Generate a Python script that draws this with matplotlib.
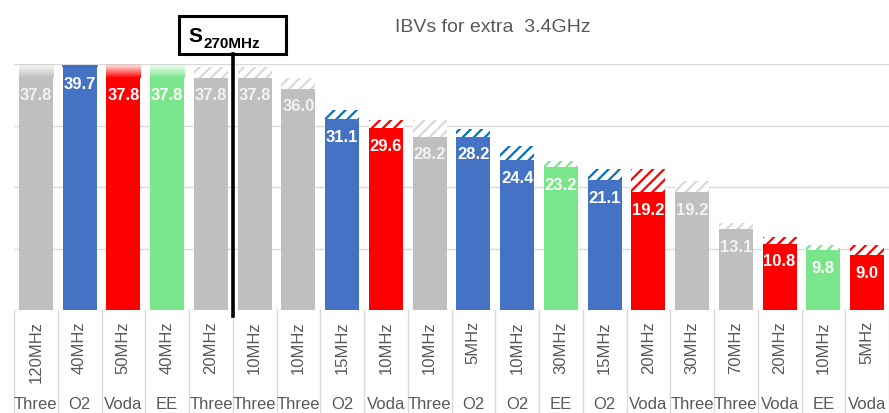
import numpy as np
import matplotlib.pyplot as plt
from matplotlib.patches import Rectangle
from matplotlib.lines import Line2D
from matplotlib.colors import to_rgb

plt.rcParams['font.family'] = ['Liberation Sans', 'DejaVu Sans']
plt.rcParams['hatch.linewidth'] = 1.6

# data
operators = ['Three', 'O2', 'Voda', 'EE', 'Three', 'Three', 'Three', 'O2', 'Voda', 'Three',
             'O2', 'O2', 'EE', 'O2', 'Voda', 'Three', 'Three', 'Voda', 'EE', 'Voda']
bandwidths = ['120MHz', '40MHz', '50MHz', '40MHz', '20MHz', '10MHz', '10MHz', '15MHz', '10MHz', '10MHz',
              '5MHz', '10MHz', '30MHz', '15MHz', '20MHz', '30MHz', '70MHz', '20MHz', '10MHz', '5MHz']
ibv = [37.8, 39.7, 37.8, 37.8, 37.8, 37.8, 36.0, 31.1, 29.6, 28.2,
       28.2, 24.4, 23.2, 21.1, 19.2, 19.2, 13.1, 10.8, 9.8, 9.0]
# top of the hatched (extra) part of each bar
ibv_upper = [40.0, 39.7, 40.0, 40.0, 39.5, 39.5, 37.7, 32.5, 30.9, 30.9,
             29.4, 26.7, 24.2, 23.0, 23.0, 21.0, 14.1, 11.8, 10.6, 10.6]
# 'fade' = bar runs off the top, 'hatch' = extra part, '' = nothing
top_style = ['fade', '', 'fade', 'fade'] + ['hatch'] * 16

bar_col = {'Three': '#BFBFBF', 'O2': '#4472C4', 'Voda': '#FF0000', 'EE': '#7AE68C'}
hatch_col = {'Three': '#D9D9D9', 'O2': '#0070C0', 'Voda': '#FF0000', 'EE': '#7AE68C'}
label_col = {'Three': '#F2F2F2', 'O2': 'white', 'Voda': 'white', 'EE': 'white'}

W, H = 889, 414
def fx(px):
    return px / W
def fy(py):
    return 1 - py / H

fig = plt.figure(figsize=(W / 100, H / 100), dpi=100)
ax = fig.add_axes([fx(14), fy(311), fx(889) - fx(14), fy(65) - fy(311)])

x = np.arange(len(ibv))
w = 0.78
cols = [bar_col[o] for o in operators]

for yv in [0, 10, 20, 30, 40]:
    ax.axhline(yv, color='#D9D9D9', lw=1, zorder=0)

ax.bar(x, ibv, width=w, color=cols, linewidth=0, zorder=2)

for i in range(len(ibv)):
    op = operators[i]
    if top_style[i] == 'hatch':
        ax.bar(x[i], ibv_upper[i] - ibv[i], bottom=ibv[i], width=w, facecolor='white',
               edgecolor=hatch_col[op], hatch='///', linewidth=0, zorder=2)
    elif top_style[i] == 'fade':
        n = 64
        rgba = np.zeros((n, 1, 4))
        rgba[..., :3] = to_rgb(bar_col[op])
        rgba[..., 3] = np.linspace(1, 0.05, n)[:, None]
        ax.imshow(rgba, extent=[x[i] - w / 2, x[i] + w / 2, ibv[i], ibv_upper[i]],
                  origin='lower', aspect='auto', interpolation='bilinear', zorder=2)
    ax.annotate(f'{ibv[i]:.1f}', (x[i], ibv[i]), xytext=(0, -12.5), textcoords='offset points',
                ha='center', va='center', fontsize=12, fontweight='bold',
                color=label_col[op], zorder=4)

# dark top edge on the blue bar
ax.plot([x[1] - w / 2, x[1] + w / 2], [ibv[1], ibv[1]], color='#2E64B0', lw=1.2, zorder=3)

ax.set_xlim(-0.5, len(ibv) - 0.5)
ax.set_ylim(0, 40)
ax.axis('off')

# category labels below the bars
tr = ax.get_xaxis_transform()
ah = 311 - 65
for i in range(len(ibv)):
    ax.text(x[i], -(321 - 311) / ah, bandwidths[i], transform=tr, rotation=90,
            ha='center', va='top', fontsize=12, color='#595959', clip_on=False)
    ax.text(x[i], -(405 - 311) / ah, operators[i], transform=tr,
            ha='center', va='center', fontsize=12, color='#595959', clip_on=False)
for k in range(len(ibv) + 1):
    ax.plot([k - 0.5, k - 0.5], [0, -(414 - 311) / ah], transform=tr, clip_on=False,
            color='#D9D9D9', lw=1, zorder=0)

fig.text(fx(493), fy(27), 'IBVs for extra  3.4GHz', ha='center', va='center',
         fontsize=14, color='#595959')

# S270MHz marker
fig.add_artist(Line2D([fx(233), fx(233)], [fy(55), fy(317)], color='black', lw=2.6,
                      transform=fig.transFigure))
fig.add_artist(Rectangle((fx(179), fy(55)), fx(286) - fx(179), fy(17) - fy(55),
                         transform=fig.transFigure, facecolor='white', edgecolor='black', lw=2.2))
fig.text(fx(188), fy(42), 'S', ha='left', va='baseline', fontsize=15, fontweight='bold')
fig.text(fx(203), fy(48), '270MHz', ha='left', va='baseline', fontsize=11, fontweight='bold')

fig.savefig('out.png', dpi=100)
